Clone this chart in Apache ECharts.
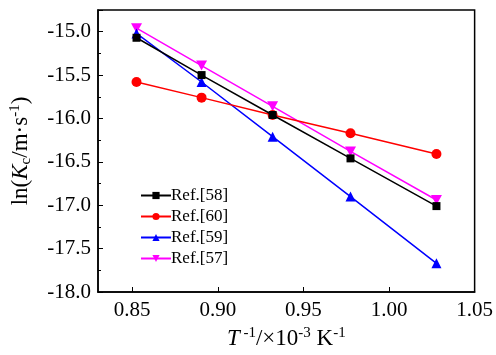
<!DOCTYPE html>
<html>
<head>
<meta charset="utf-8">
<script src="https://cdn.jsdelivr.net/npm/echarts@6/dist/echarts.min.js"></script>
<style>
  html, body { margin: 0; padding: 0; background: #fff; }
  #chart { width: 496px; height: 355px; }
</style>
</head>
<body>
<div id="chart"></div>
<script>
// 1000/T values (700-900 °C)
const invT = [0.8525, 0.8905, 0.9320, 0.9775, 1.0277];
const ref58 = [-15.07, -15.50, -15.96, -16.46, -17.01];
const ref60 = [-15.58, -15.76, -15.96, -16.17, -16.41];
const ref59 = [-15.02, -15.58, -16.21, -16.90, -17.67];
const ref57 = [-14.96, -15.39, -15.86, -16.38, -16.94];
const xTicks = [0.85, 0.90, 0.95, 1.00, 1.05];

const seriesNames = ['Ref.[58]', 'Ref.[60]', 'Ref.[59]', 'Ref.[57]'];
const seriesValues = [ref58, ref60, ref59, ref57];
const seriesColors = ['#000000', '#ff0000', '#0000ff', '#ff00ff'];
const seriesSymbols = ['rect', 'circle', 'triangle', 'path://M0,0 L10,0 L5,9 Z'];

const font = '"Liberation Serif", "Times New Roman", serif';
const chart = echarts.init(document.getElementById('chart'));

const toPairs = (ys) => ys.map((y, i) => [invT[i], y]);

const axisCommon = {
  axisLine: { show: true, onZero: false, lineStyle: { color: '#000', width: 1.5 } },
  axisTick: { inside: true, length: 5, lineStyle: { color: '#000', width: 1 } },
  minorTick: { show: true, splitNumber: 2, length: 3, lineStyle: { color: '#000' } },
  splitLine: { show: false },
  axisLabel: { color: '#000', fontFamily: font, fontSize: 21 },
};

const option = {
  animation: false,
  grid: {
    left: 94, right: 20, top: 10, bottom: 60,
    show: true, borderColor: '#000', borderWidth: 1.5, backgroundColor: 'transparent',
  },
  legend: {
    orient: 'vertical',
    left: 135,
    top: 182,
    itemWidth: 30,
    itemHeight: 9,
    itemGap: 4,
    data: seriesNames,
    textStyle: { color: '#000', fontFamily: font, fontSize: 17, padding: [0, 0, 0, -5] },
  },
  xAxis: {
    type: 'value',
    min: 0.83,
    max: 1.05,
    ...axisCommon,
    axisLabel: {
      ...axisCommon.axisLabel,
      margin: 8,
      formatter: (v) => v.toFixed(2),
      customValues: xTicks,
    },
    axisTick: { ...axisCommon.axisTick, customValues: xTicks },
    minorTick: { show: false },
    name: '{i|T}{s| -1}{n|/×10}{s|-3}{n| K}{s|-1}',
    nameLocation: 'middle',
    nameGap: 34,
    nameTextStyle: {
      rich: {
        i: { fontFamily: font, fontSize: 23, fontStyle: 'italic', color: '#000', verticalAlign: 'bottom', lineHeight: 24 },
        n: { fontFamily: font, fontSize: 23, color: '#000', verticalAlign: 'bottom', lineHeight: 24 },
        s: { fontFamily: font, fontSize: 15, color: '#000', verticalAlign: 'top', lineHeight: 24 },
      },
    },
  },
  yAxis: {
    type: 'value',
    min: -18.0,
    max: -14.75,
    interval: 0.5,
    ...axisCommon,
    axisLabel: {
      ...axisCommon.axisLabel,
      margin: 7,
      formatter: (v) => (v > -14.8 ? '' : v.toFixed(1)),
    },
    name: '{n|ln(}{i|K}{b|c}{n|/m·s}{s|-1}{n|)}',
    nameLocation: 'middle',
    nameRotate: 90,
    nameGap: 64,
    nameTextStyle: {
      rich: {
        i: { fontFamily: font, fontSize: 23, fontStyle: 'italic', color: '#000', verticalAlign: 'middle', lineHeight: 26 },
        n: { fontFamily: font, fontSize: 23, color: '#000', verticalAlign: 'middle', lineHeight: 26 },
        s: { fontFamily: font, fontSize: 15, color: '#000', verticalAlign: 'top', lineHeight: 26 },
        b: { fontFamily: font, fontSize: 15, color: '#000', verticalAlign: 'bottom', lineHeight: 26 },
      },
    },
  },
  series: seriesNames.map((name, k) => ({
    name,
    type: 'line',
    data: toPairs(seriesValues[k]),
    symbol: seriesSymbols[k],
    symbolSize: k === 3 ? [11, 10] : (k === 0 ? 8 : 10),
    showAllSymbol: true,
    lineStyle: { color: seriesColors[k], width: 1.5 },
    itemStyle: { color: seriesColors[k], borderWidth: 0 },
    z: 10 - k,
  })),
};

chart.setOption(option);
</script>
</body>
</html>
